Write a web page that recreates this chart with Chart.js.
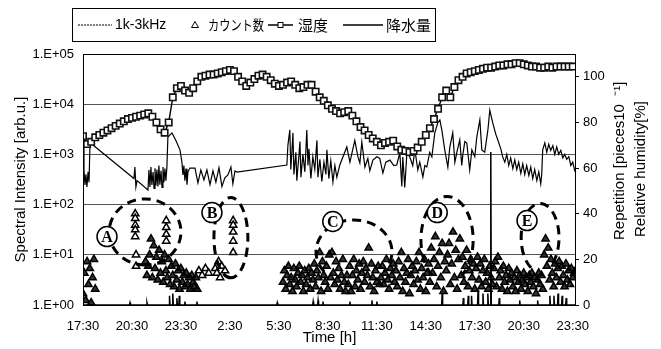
<!DOCTYPE html>
<html>
<head>
<meta charset="utf-8">
<script src="https://cdn.jsdelivr.net/npm/chart.js@4.4.1/dist/chart.umd.min.js"></script>
<style>
  html, body { margin: 0; padding: 0; background: #fff; }
  canvas { display: block; }
</style>
</head>
<body>
<canvas id="c" width="661" height="349"></canvas>
<script>
const FONT = "'Liberation Sans', Arial, sans-serif";
const JP_FONT = "'Noto Sans CJK JP', 'Noto Sans CJK SC', sans-serif";

// x axis is hours after 17:30 on the first day
const timeTickLabels = ['17:30', '20:30', '23:30', '2:30', '5:30', '8:30', '11:30', '14:30', '17:30', '20:30', '23:30'];
const leftTickValues = [1, 10, 100, 1000, 10000, 100000];
const leftTickLabels = ['1.E+00', '1.E+01', '1.E+02', '1.E+03', '1.E+04', '1.E+05'];
const rightTickValues = [0, 20, 40, 60, 80, 100];

// 1k-3kHz spectral intensity (left, log)
const specTime = [0, 0.06, 0.12, 0.18, 0.24, 0.31, 0.37, 0.43, 0.61,
  3.12, 3.18, 3.24, 3.31, 3.98,
  4.04, 4.10, 4.16, 4.22, 4.29, 4.35, 4.41, 4.47, 4.53, 4.59, 4.65, 4.71, 4.78, 4.84, 4.90, 4.96, 5.02, 5.08, 5.14,
  5.20, 5.45, 5.69, 5.94, 6.06, 6.12, 6.18, 6.24, 6.31, 6.37, 6.43, 6.55,
  6.86, 7.04, 7.22, 7.41, 7.59, 7.78, 7.96, 8.14, 8.33, 8.51, 8.69, 8.88, 9.06, 9.18, 9.31, 9.43,
  12.49, 12.55, 12.67, 12.73, 12.80, 12.86, 12.92, 13.04, 13.10, 13.22, 13.29, 13.35, 13.47, 13.59, 13.71, 13.78,
  13.84, 13.96, 14.08, 14.20, 14.33, 14.39, 14.51, 14.63, 14.76, 14.88, 14.94, 15.06, 15.18, 15.31, 15.43, 15.55, 15.73,
  16.16, 16.35, 16.65, 16.84, 16.96, 17.08, 17.27, 17.45, 17.57, 17.76, 18.00, 18.18, 18.37, 18.55, 18.80, 19.04,
  19.22, 19.41, 19.53, 19.59, 19.71, 19.84, 20.02, 20.20, 20.33, 20.51, 20.63, 20.82, 20.94, 21.06, 21.24, 21.37,
  21.55, 21.73, 21.86, 21.98, 22.16, 22.35, 22.47, 22.65, 22.78, 22.90, 23.08, 23.20, 23.27, 23.39, 23.51, 23.69,
  23.82, 24.00, 24.12, 24.31, 24.43, 24.61, 24.80, 24.92, 25.10, 25.29, 25.41, 25.59, 25.71,
  25.84, 25.96, 26.08, 26.20, 26.33, 26.45, 26.57, 26.69, 26.82, 26.94, 27.06, 27.18, 27.31, 27.43, 27.55, 27.67,
  27.80, 27.92, 28.04, 28.10, 28.16, 28.29, 28.41, 28.53, 28.65, 28.78, 28.90, 29.02, 29.14, 29.27, 29.39, 29.51,
  29.63, 29.76, 29.88, 30.00, 30.12, 30.20];
const specValue = [2130, 490, 245, 400, 224, 450, 280, 1770, 1540,
  330, 560, 224, 300, 195,
  490, 224, 560, 245, 445, 210, 530, 240, 500, 230, 600, 250, 470, 220, 560, 280, 520, 300, 560,
  2220, 2680, 1900, 1230, 700, 390, 600, 300, 520, 250, 450, 535,
  535, 270, 490, 310, 490, 250, 470, 280, 540, 230, 340, 390, 560, 260, 470, 445,
  615, 1500, 3070, 500, 1200, 2680, 400, 1100, 300, 900, 1800, 350, 1000, 450, 3070, 600,
  1300, 330, 900, 500, 1900, 350, 800, 290, 700, 400, 1230, 330, 750, 283, 600, 350, 615,
  1410, 700, 1900, 900, 675, 1770, 560, 830, 470, 770, 900, 830, 425, 700, 770, 600,
  615, 1070, 230, 890, 220, 1070, 890, 600, 1230, 490, 700, 355, 600, 560, 1100, 890,
  2680, 4240, 4870, 3070, 1230, 560, 1400, 2680, 700, 1100, 1940, 600, 1000, 1800, 1690, 490,
  1230, 900, 2200, 4870, 1230, 1110, 3000, 7600, 4240, 2500, 1940, 1300, 890,
  700, 1000, 600, 850, 520, 780, 500, 700, 420, 650, 400, 600, 380, 560, 330, 500,
  300, 450, 260, 400, 1230, 1700, 1100, 1600, 1200, 1500, 1000, 1410, 1000, 1200, 850, 1000,
  800, 900, 600, 700, 480, 540];

// 湿度 (right axis, %), every 15 min from 17:30
const humidityStart = 0;
const humidityStep = 0.25;
const humidity = [
  74, 70.5, 71.5, 73.5, 74.5, 75.5, 76.5, 77.5, 78.5, 79.5, 80.5, 81.5,
  82, 82.5, 83, 83.5, 84, 82.5, 80, 77, 75.5, 80, 91, 95,
  96, 94, 93, 95, 98, 100, 100.5, 101, 101, 101.5, 102, 102.5,
  103, 102.5, 100, 98, 96, 97.5, 99, 100.5, 101, 100, 98.5, 97,
  96, 96.5, 97.5, 98, 96.5, 95, 95.5, 96.5, 96.5, 93.5, 91, 89.5,
  87.5, 86, 85, 84, 84.5, 85, 83, 80.5, 78, 76.5, 74.5, 73,
  71.5, 70, 71, 71.5, 72, 69.5, 68, 67.5, 67, 67.5, 69, 71.5,
  74.5, 77.5, 81.5, 86, 91, 94, 91, 95.5, 98.5, 100, 101.5, 102,
  102.5, 103, 103.5, 104, 104, 104.5, 105, 105, 105.5, 105.5, 106, 106,
  105.5, 105, 104.5, 104.5, 104, 104, 104.5, 104, 104.5, 104.5, 104.5, 104.5,
  104.5];

// カウント数 (right axis), 5-minute runs plus isolated readings
const countStep = 1 / 12;
const countEveStart = 0;
const countEve = [5, 14, 2, 19, 9, 16, 1, 12, 20, 7];
const countNightStart = 3.83;
const countNight = [19, 13, 17, 22, 29, 12, 26, 16, 21, 11, 24, 14, 19, 10, 22, 15, 12, 20, 9, 17,
  13, 8, 18, 11, 15, 7, 16, 10, 13, 8, 14, 9, 12, 7, 13, 10, 8, 12, 7];
const countDayStart = 12.25;
const countDay = [
  10, 15, 7, 13, 17, 9, 12, 6, 16, 11, 8, 14,
  17, 10, 13, 6, 15, 9, 12, 16, 7, 14, 11, 18,
  8, 15, 12, 23, 6, 19, 13, 10, 17, 7, 22, 12,
  23, 14, 9, 19, 11, 16, 7, 13, 20, 10, 6, 13,
  9, 17, 6, 13, 20, 8, 15, 11, 18, 7, 14, 19,
  10, 16, 13, 25, 8, 18, 12, 6, 15, 10, 17, 9,
  12, 17, 9, 14, 20, 11, 7, 16, 13, 18, 10, 15,
  8, 19, 12, 23, 6, 16, 10, 14, 20, 5, 13, 17,
  9, 15, 19, 11, 23, 7, 16, 12, 20, 6, 14, 18,
  10, 25, 14, 20, 30, 8, 17, 23, 12, 27, 6, 19,
  15, 22, 27, 9, 18, 32, 12, 24, 7, 20, 29, 13,
  21, 10, 17, 24, 8, 15, 20, 12, 18, 7, 16, 21,
  11, 18, 8, 15, 20, 10, 14, 7, 17, 12, 9, 16,
  19, 8, 21, 12, 15, 7, 17, 10, 13, 6, 16, 11,
  14, 8, 12, 6, 15, 10, 13, 7, 11, 14, 9, 12,
  6, 13, 10, 14, 8, 12, 5, 11, 14, 9, 13, 7,
  22, 29, 17, 25, 11, 20, 14, 8, 18, 12, 16, 19,
  10, 17, 13, 8, 18, 11, 15, 9, 16, 12, 14, 15];
const countExtraTime = [3.2, 3.2, 3.2, 3.2, 3.2, 3.25, 3.25,
  5.1, 5.1, 5.1, 5.1,
  7.1, 7.3, 7.5, 7.7, 8.1, 8.2, 8.3, 8.4, 8.5, 8.7,
  9.2, 9.2, 9.2, 9.2, 9.2];
const countExtraValue = [40, 38, 35, 33, 30, 22, 17,
  37, 34, 31, 28,
  15, 13, 16, 14, 16, 14, 19, 12, 17, 15,
  37, 35, 32, 28, 23];

// 降水量 (right axis): rain readings, zero elsewhere
const precipTime = [2.88, 3.92, 5.3, 5.5, 5.75, 5.9, 6.24, 6.98, 11.9, 14.1, 14.4, 14.7, 16.35, 17.7, 18.0,
  22.0, 23.3, 23.6, 23.8, 24.2, 24.5, 24.8, 24.98, 25.5, 26.75, 27.85, 28.6, 28.85, 29.1, 29.35, 29.6];
const precipValue = [1, 1, 4, 5, 3, 4, 1.5, 1.5, 1, 1.5, 2, 1.5, 1.5, 2, 1.5,
  5, 3, 4, 4, 6.5, 5, 5, 67, 3, 2, 2, 4, 4, 5, 4, 3];

// marked episodes A-E (centre hour / count, half-extent in hours / counts)
const episodeName = ['A', 'B', 'C', 'D', 'E'];
const episodeT = [3.8, 9.06, 16.6, 22.3, 28.0];
const episodeV = [32, 29.5, 23.3, 28.6, 29.5];
const episodeSpanT = [2.2, 1.04, 2.33, 1.6, 1.16];
const episodeSpanV = [14.5, 17.6, 14, 19, 15];
const episodeGap = [0, 0, 0.9, 0.6, 0.5];
const episodeLabelT = [1.47, 7.9, 15.3, 21.7, 27.2];
const episodeLabelV = [30, 40.5, 36.6, 40.5, 37];

const run = (start, step, values) => values.map((v, i) => ({ x: start + i * step, y: v }));

const specPoints = specTime.map((t, i) => ({ x: t, y: specValue[i] }));
const humidityPoints = run(humidityStart, humidityStep, humidity);
const densePoints = [
  ...run(countEveStart, countStep, countEve),
  ...run(countNightStart, countStep, countNight),
  ...run(countDayStart, countStep, countDay),
];
const countPoints = [
  ...densePoints,
  ...countExtraTime.map((t, i) => ({ x: t, y: countExtraValue[i] })),
];
const precipPoints = [{ x: 0, y: 0 }];
precipTime.forEach((t, i) => {
  precipPoints.push({ x: t - 0.03, y: 0 }, { x: t, y: precipValue[i] }, { x: t + 0.03, y: 0 });
});
precipPoints.push({ x: 30.2, y: 0 });

// dashed episode rings, circled letters and the plot frame
const episodePlugin = {
  id: 'episodes',
  afterDatasetsDraw(chart) {
    const { ctx, chartArea, scales } = chart;
    const xs = scales.x, ys = scales.y2;
    ctx.save();
    episodeName.forEach((name, i) => {
      const cx = xs.getPixelForValue(episodeT[i]);
      const cy = ys.getPixelForValue(episodeV[i]);
      const rx = Math.abs(xs.getPixelForValue(episodeT[i] + episodeSpanT[i]) - cx);
      const ry = Math.abs(ys.getPixelForValue(episodeV[i] + episodeSpanV[i]) - cy);
      const g = episodeGap[i];
      ctx.beginPath();
      ctx.setLineDash([9, 6]);
      ctx.lineWidth = 3;
      ctx.strokeStyle = '#000';
      ctx.ellipse(cx, cy, rx, ry, 0, Math.PI / 2 + g, Math.PI / 2 - g + Math.PI * 2);
      ctx.stroke();
    });
    ctx.setLineDash([]);
    episodeName.forEach((name, i) => {
      const lx = xs.getPixelForValue(episodeLabelT[i]);
      const ly = ys.getPixelForValue(episodeLabelV[i]);
      ctx.beginPath();
      ctx.arc(lx, ly, 10, 0, Math.PI * 2);
      ctx.fillStyle = '#fff';
      ctx.fill();
      ctx.lineWidth = 1.5;
      ctx.stroke();
      ctx.fillStyle = '#000';
      ctx.font = "bold 16px 'Liberation Serif', 'Times New Roman', serif";
      ctx.textAlign = 'center';
      ctx.textBaseline = 'middle';
      ctx.fillText(name, lx, ly + 1);
    });
    ctx.lineWidth = 1;
    ctx.strokeStyle = '#000';
    ctx.strokeRect(chartArea.left + 0.5, chartArea.top + 0.5,
      chartArea.right - chartArea.left - 1, chartArea.bottom - chartArea.top);
    ctx.restore();
  },
};

// boxed legend at the top and the two-line right axis title
const legendPlugin = {
  id: 'boxLegend',
  afterDraw(chart) {
    const ctx = chart.ctx;
    ctx.save();
    ctx.strokeStyle = '#000';
    ctx.fillStyle = '#000';
    ctx.lineWidth = 1;
    ctx.strokeRect(72.5, 8.5, 363, 33);
    const y = 25;
    ctx.textBaseline = 'middle';
    ctx.textAlign = 'left';

    ctx.setLineDash([2, 1]);
    ctx.beginPath(); ctx.moveTo(78, y); ctx.lineTo(112, y); ctx.stroke();
    ctx.setLineDash([]);
    ctx.font = '14px ' + FONT;
    ctx.fillText('1k-3kHz', 115, y);

    ctx.beginPath();
    ctx.moveTo(195, y - 3.5); ctx.lineTo(198.5, y + 2.5); ctx.lineTo(191.5, y + 2.5); ctx.closePath();
    ctx.stroke();
    ctx.save();
    ctx.translate(208, y);
    ctx.scale(0.8, 1);
    ctx.font = '14px ' + JP_FONT;
    ctx.fillText('カウント数', 0, 0);
    ctx.restore();

    ctx.lineWidth = 1.5;
    ctx.beginPath(); ctx.moveTo(268, y); ctx.lineTo(293, y); ctx.stroke();
    ctx.fillStyle = '#fff';
    ctx.fillRect(278, y - 2.5, 5, 5);
    ctx.lineWidth = 1;
    ctx.strokeRect(278, y - 2.5, 5, 5);
    ctx.fillStyle = '#000';
    ctx.font = '15px ' + JP_FONT;
    ctx.fillText('湿度', 298, y);

    ctx.lineWidth = 1.5;
    ctx.beginPath(); ctx.moveTo(343, y); ctx.lineTo(383, y); ctx.stroke();
    ctx.fillText('降水量', 386, y);

    ctx.font = '15px ' + FONT;
    ctx.textAlign = 'left';
    const titles = [['Repetition [pieces10  \u207B\u00B9]', 620, 240], ['Relative humidity[%]', 641, 237]];
    titles.forEach(([text, tx, ty]) => {
      ctx.save();
      ctx.translate(tx, ty);
      ctx.rotate(-Math.PI / 2);
      ctx.fillText(text, 0, 0);
      ctx.restore();
    });
    ctx.restore();
  },
};

const tickFont = { family: FONT, size: 13 };
const titleFont = { family: FONT, size: 15 };

new Chart(document.getElementById('c'), {
  type: 'line',
  data: {
    datasets: [
      {
        label: '湿度',
        data: humidityPoints,
        yAxisID: 'y2',
        order: 0,
        borderColor: '#000',
        borderWidth: 1.4,
        pointStyle: 'rect',
        pointRadius: 4.5,
        pointBackgroundColor: '#fff',
        pointBorderColor: '#111',
        pointBorderWidth: 1.6,
      },
      {
        label: 'カウント数',
        data: countPoints,
        yAxisID: 'y2',
        order: 1,
        showLine: false,
        pointStyle: 'triangle',
        pointRadius: 4.2,
        // overlapping readings in the dense runs print as a dark mass
        pointBackgroundColor: c => (c.dataIndex < densePoints.length ? 'rgba(0,0,0,0.8)' : '#fff'),
        pointBorderColor: '#000',
        pointBorderWidth: 1.5,
      },
      {
        label: '1k-3kHz',
        data: specPoints,
        yAxisID: 'y',
        order: 2,
        borderColor: '#000',
        borderWidth: 1.2,
        pointRadius: 0,
      },
      {
        label: '降水量',
        data: precipPoints,
        yAxisID: 'y2',
        order: 3,
        borderColor: '#000',
        borderWidth: 1.5,
        pointRadius: 0,
      },
    ],
  },
  options: {
    responsive: false,
    animation: false,
    layout: { padding: { top: 54, left: 0, right: 0, bottom: 0 } },
    plugins: { legend: { display: false }, tooltip: { enabled: false } },
    scales: {
      x: {
        type: 'linear',
        min: 0,
        max: 30.2,
        afterBuildTicks: s => { s.ticks = timeTickLabels.map((_, i) => ({ value: i * 3 })); },
        afterFit: s => { s.height = 44; },
        ticks: { color: '#000', font: tickFont, padding: 6, maxRotation: 0, autoSkip: false,
          callback: (v, i) => timeTickLabels[i] },
        grid: { display: false },
        border: { display: false },
        title: { display: true, text: 'Time [h]', color: '#000', font: titleFont, padding: { top: 0, bottom: 2 } },
      },
      y: {
        type: 'logarithmic',
        position: 'left',
        min: 1,
        max: 100000,
        afterBuildTicks: s => { s.ticks = leftTickValues.map(v => ({ value: v })); },
        afterFit: s => { s.width = 83; },
        ticks: { color: '#000', font: tickFont, padding: 9, autoSkip: false,
          callback: (v, i) => leftTickLabels[i] },
        grid: { color: '#555', lineWidth: 1, drawTicks: false },
        border: { display: false },
        title: { display: true, text: 'Spectral Intensity [arb.u.]', color: '#000', font: titleFont,
          padding: { top: 12, bottom: 0 } },
      },
      y2: {
        type: 'linear',
        position: 'right',
        min: 0,
        max: 110,
        afterBuildTicks: s => { s.ticks = rightTickValues.map(v => ({ value: v })); },
        afterFit: s => { s.width = 85; },
        ticks: { color: '#000', font: tickFont, padding: 4, autoSkip: false },
        grid: { drawOnChartArea: false, tickLength: 3, color: '#000' },
        border: { display: false },
      },
    },
  },
  plugins: [episodePlugin, legendPlugin],
});
</script>
</body>
</html>
